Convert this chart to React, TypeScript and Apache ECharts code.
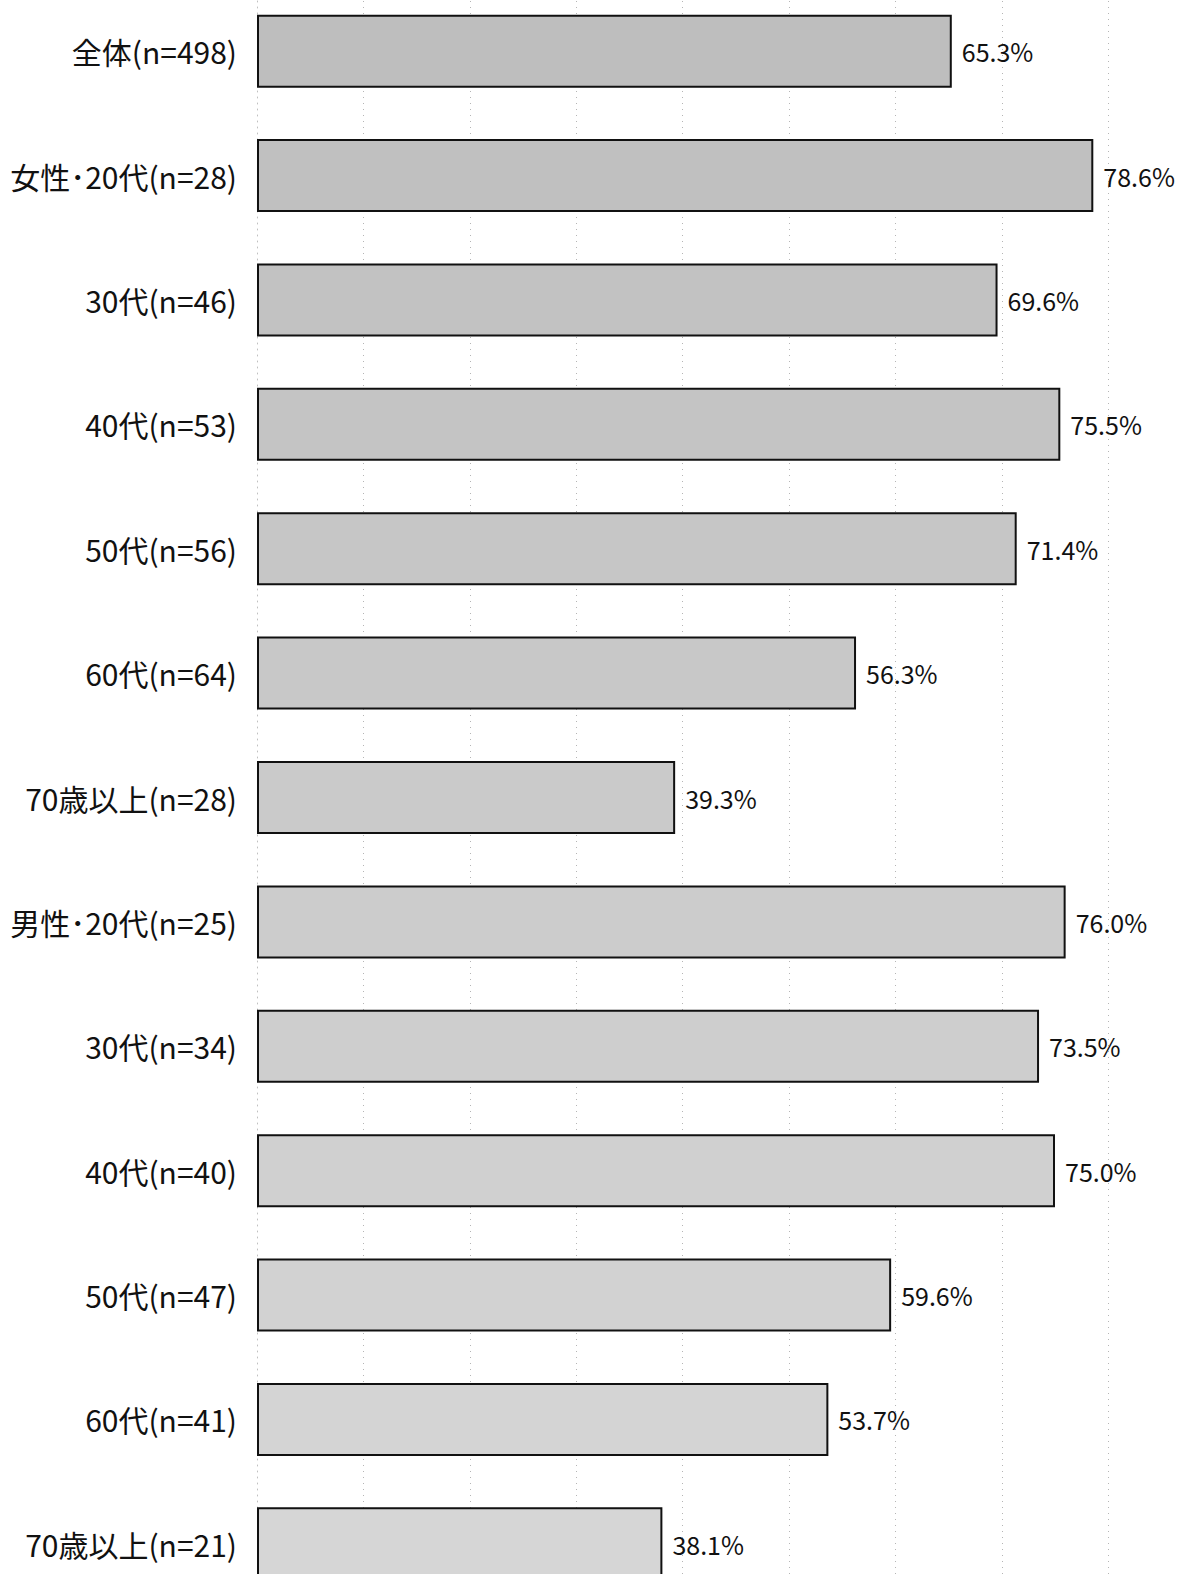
import React, { useEffect, useRef } from "react";
import * as echarts from "echarts";

const categories = [
  "全体(n=498)",
  "女性･20代(n=28)",
  "30代(n=46)",
  "40代(n=53)",
  "50代(n=56)",
  "60代(n=64)",
  "70歳以上(n=28)",
  "男性･20代(n=25)",
  "30代(n=34)",
  "40代(n=40)",
  "50代(n=47)",
  "60代(n=41)",
  "70歳以上(n=21)",
];

const values = [65.3, 78.6, 69.6, 75.5, 71.4, 56.3, 39.3, 76.0, 73.5, 75.0, 59.6, 53.7, 38.1];

const xTicks = [0, 10, 20, 30, 40, 50, 60, 70, 80, 90, 100];

const OFFSET_Y = 40;

export default function App() {
  const ref = useRef<HTMLDivElement>(null);
  useEffect(() => {
    if (!ref.current) return;
    const chart = echarts.init(ref.current, undefined, { renderer: "svg" });
    const n = values.length;
    const shade = (i: number) => {
      const v = Math.round(0xbe + ((0xd6 - 0xbe) * i) / (n - 1));
      const h = v.toString(16);
      return "#" + h + h + h;
    };
    chart.setOption({
      animation: false,
      backgroundColor: "#ffffff",
      grid: { left: 257, top: -11 + OFFSET_Y, height: 1617, width: 1064, containLabel: false },
      xAxis: {
        type: "value",
        min: xTicks[0],
        max: xTicks[xTicks.length - 1],
        interval: 10,
        axisLabel: { show: false },
        axisLine: { show: false },
        axisTick: { show: false },
        splitLine: { show: true, lineStyle: { color: "#b5b5b5", type: [1, 5], width: 1 } },
      },
      yAxis: {
        type: "category",
        data: categories,
        inverse: true,
        axisLine: { show: true, lineStyle: { color: "#c0c0c0", type: [1, 5], width: 1 } },
        axisTick: { show: false },
        axisLabel: {
          margin: 20,
          fontSize: 30,
          color: "#111111",
          fontFamily: "'Noto Sans CJK JP', sans-serif",
          padding: [0, 0, 5, 0],
        },
      },
      series: [
        {
          type: "bar",
          barWidth: 73,
          data: values.map((v, i) => ({
            value: v,
            itemStyle: { color: shade(i) },
          })),
          itemStyle: { borderColor: "#111111", borderWidth: 2 },
          label: {
            show: true,
            position: "right",
            distance: 10,
            fontSize: 25,
            color: "#111111",
            fontFamily: "'Noto Sans CJK JP', sans-serif",
            formatter: (p: any) => p.value.toFixed(1) + "%",
          },
        },
      ],
    });
    return () => chart.dispose();
  }, []);
  return (
    <div
      style={{
        position: "absolute",
        left: 0,
        top: 0,
        width: 1183,
        height: 1574,
        overflow: "hidden",
        background: "#ffffff",
      }}
    >
      <div
        ref={ref}
        style={{ position: "absolute", left: 0, top: -OFFSET_Y, width: 1400, height: 1680 }}
      />
    </div>
  );
}
